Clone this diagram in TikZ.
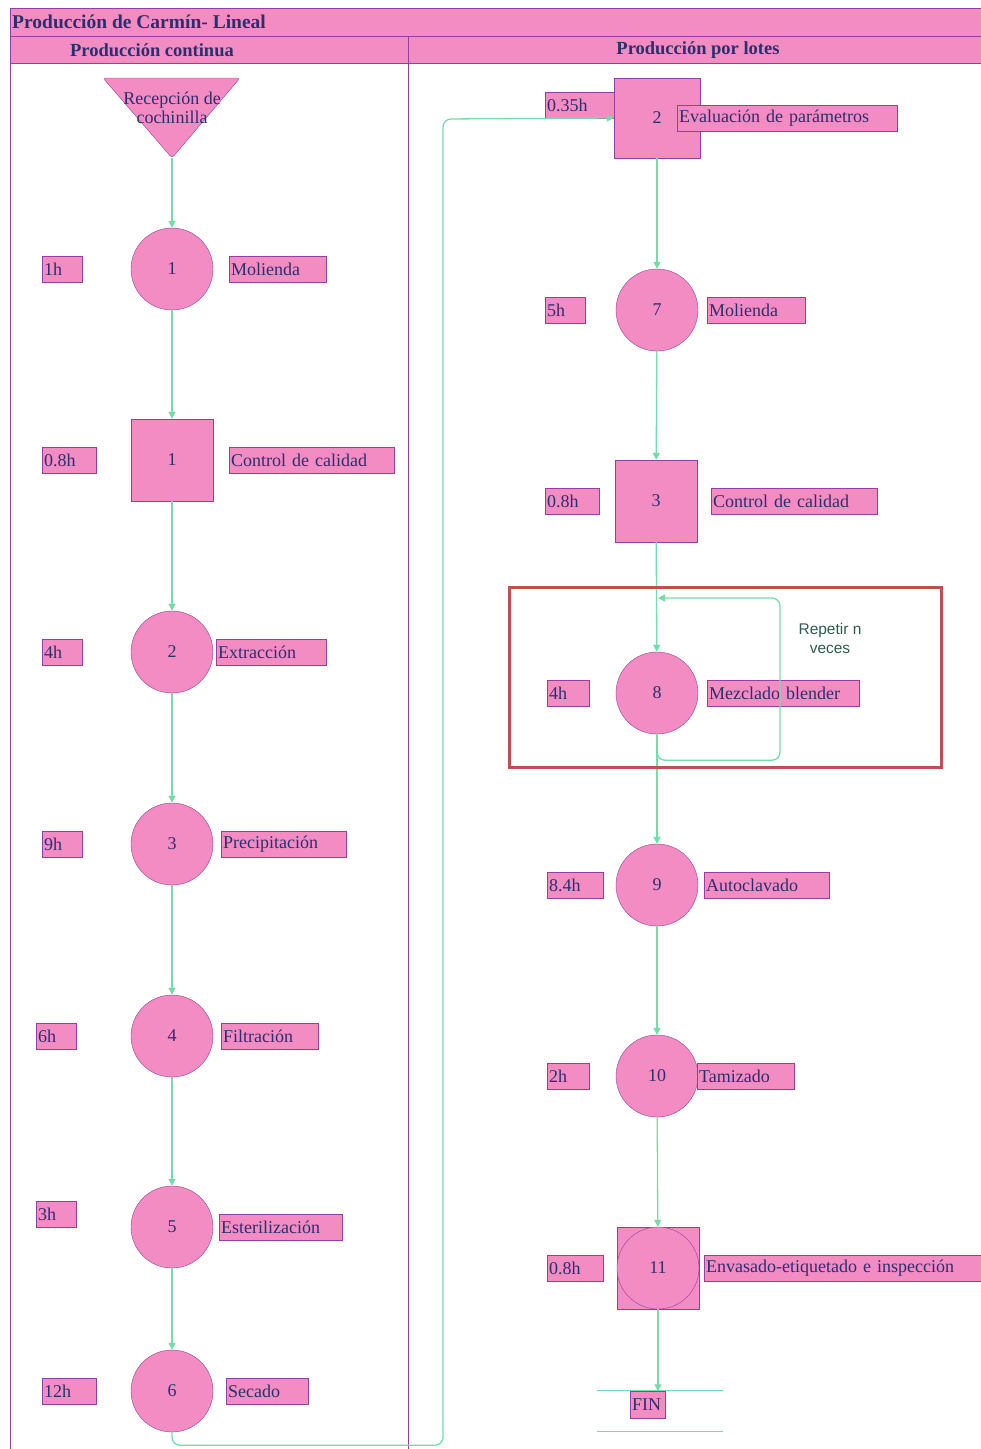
\documentclass[tikz,border=0pt]{standalone}
\usepackage{fontspec}
\setmainfont{Liberation Serif}
\newfontfamily\repfont{Liberation Sans}
\usetikzlibrary{arrows.meta,shapes.geometric}
\definecolor{pinkf}{HTML}{F38CC3}
\definecolor{edgec}{HTML}{9440A0}
\definecolor{txtc}{HTML}{2C2E6E}
\definecolor{flowc}{HTML}{74DCA8}
\definecolor{redc}{HTML}{C0504D}
\definecolor{repc}{HTML}{2F5D50}
\newcommand\lblfont{\fontsize{18}{20}\selectfont}
\tikzset{
  proc/.style={circle, draw=edgec, fill=pinkf, minimum size=82pt, inner sep=0pt, font=\lblfont, text=txtc},
  insp/.style={rectangle, draw=edgec, fill=pinkf, minimum size=82pt, inner sep=0pt, font=\lblfont, text=txtc},
  tag/.style={rectangle, draw=edgec, fill=pinkf, anchor=west, minimum height=26pt, inner xsep=2pt, inner ysep=0pt, text width=#1pt, align=left, font=\lblfont, text=txtc},
  flow/.style={draw=flowc, line width=1.3pt, -{Triangle[length=7pt,width=7pt]}},
  hdr/.style={font=\fontsize{18.5}{20}\selectfont\bfseries, text=txtc}
}
\begin{document}
\begin{tikzpicture}[x=1pt,y=-1pt]
\useasboundingbox (0,0) rectangle (981,1449);
\fill[white] (0,0) rectangle (981,1449);
% frame
\draw[edgec, fill=pinkf, line width=0.8pt] (10,8) rectangle (981,36);
\draw[edgec, fill=pinkf, line width=0.8pt] (10,36) rectangle (981,63);
\draw[edgec, line width=0.8pt] (10,8) -- (10,1449);
\draw[edgec, line width=0.8pt] (408,36) -- (408,1449);
\node[hdr, font=\fontsize{19.5}{21}\selectfont\bfseries, anchor=west, inner xsep=1pt] (title) at (11,22) {Producción de Carmín- Lineal};
\node[hdr] (hcont) at (152,50) {Producción continua};
\node[hdr] (hlot) at (698,50) {Producción por lotes};

% left column
\draw[draw=edgec, fill=pinkf, rounded corners=3pt] (103,78) -- (240,78) -- (172,158) -- cycle;
\node[font=\lblfont, text=txtc, align=center] (rec) at (172,108) {Recepción de\\[-1pt]cochinilla};
\coordinate (recb) at (172,158);

\node[proc] (c1) at (172,269) {1};
\node[insp] (q1) at (172,460) {1};
\node[proc] (c2) at (172,652) {2};
\node[proc] (c3) at (172,844) {3};
\node[proc] (c4) at (172,1036) {4};
\node[proc] (c5) at (172,1227) {5};
\node[proc] (c6) at (172,1391) {6};

\node[tag=36] (t1) at (42,269) {1h};
\node[tag=93] (l1) at (229,269) {Molienda};
\node[tag=50] (tq1) at (42,460) {0.8h};
\node[tag=161] (lq1) at (229,460) {Control de calidad};
\node[tag=36] (t2) at (42,652) {4h};
\node[tag=106] (l2) at (216,652) {Extracción};
\node[tag=36] (t3) at (42,844) {9h};
\node[tag=121] (l3) at (221,844) {Precipitación};
\node[tag=36] (t4) at (36,1036) {6h};
\node[tag=93] (l4) at (221,1036) {Filtración};
\node[tag=36] (t5) at (36,1214) {3h};
\node[tag=119] (l5) at (219,1227) {Esterilización};
\node[tag=50] (t6) at (42,1391) {12h};
\node[tag=78] (l6) at (226,1391) {Secado};

\draw[flow] (recb) -- (c1);
\draw[flow] (c1) -- (q1);
\draw[flow] (q1) -- (c2);
\draw[flow] (c2) -- (c3);
\draw[flow] (c3) -- (c4);
\draw[flow] (c4) -- (c5);
\draw[flow] (c5) -- (c6);

% right column
\node[insp, minimum width=86pt, minimum height=80pt] (s2) at (657,118) {2};
\node[tag=65] (ts2) at (545,105) {0.35h};
\node[tag=216] (ls2) at (677,118) {Evaluación de parámetros};
\node[proc] (c7) at (657,310) {7};
\node[insp] (q3) at (656,501) {3};
\node[proc] (c8) at (657,693) {8};
\node[proc] (c9) at (657,885) {9};
\node[proc] (c10) at (657,1076) {10};
\node[insp] (q11) at (658,1268) {};
\node[proc] (c11) at (658,1268) {11};
\draw[flowc, line width=1pt] (597,1390) -- (723,1390);
\draw[flowc, line width=1pt] (597,1431) -- (723,1431);
\node[tag=31, minimum height=27pt] (fin) at (630,1405) {FIN};
\node[tag=36] (t7) at (545,310) {5h};
\node[tag=94] (l7) at (707,310) {Molienda};
\node[tag=50] (tq3) at (545,501) {0.8h};
\node[tag=162] (lq3) at (711,501) {Control de calidad};
\node[tag=38] (t8) at (547,693) {4h};
\node[tag=148] (l8) at (707,693) {Mezclado blender};
\node[tag=52] (t9) at (547,885) {8.4h};
\node[tag=121] (l9) at (704,885) {Autoclavado};
\node[tag=38] (t10) at (547,1076) {2h};
\node[tag=93] (l10) at (697,1076) {Tamizado};
\node[tag=52] (tq11) at (547,1268) {0.8h};
\node[tag=273] (lq11) at (704,1268) {Envasado-etiquetado e inspección};

\draw[flow] (s2) -- (c7);
\draw[flow] (c7) -- (q3);
\draw[flow] (q3) -- (c8);
\draw[flow] (c8) -- (c9);
\draw[flow] (c9) -- (c10);
\draw[flow] (c10) -- (q11);
\draw[flow] (q11.south) -- (q11.south |- fin.north);

% loop
\coordinate (lpend) at (658,598);
\draw[flow, rounded corners=8pt] (c8.south) -- ++(0,26) -| (780,598) -- (lpend);
\node[font=\repfont\fontsize{15.5}{19}\selectfont, text=repc, align=center] (rep) at (830,638) {Repetir n\\veces};

% big connector
\draw[flow, rounded corners=8pt] (c6.south) -- ++(0,13) -| (443,119) -- (s2.west);

\draw[redc, line width=3pt] (509,587) rectangle (941,767);
\end{tikzpicture}
\end{document}
